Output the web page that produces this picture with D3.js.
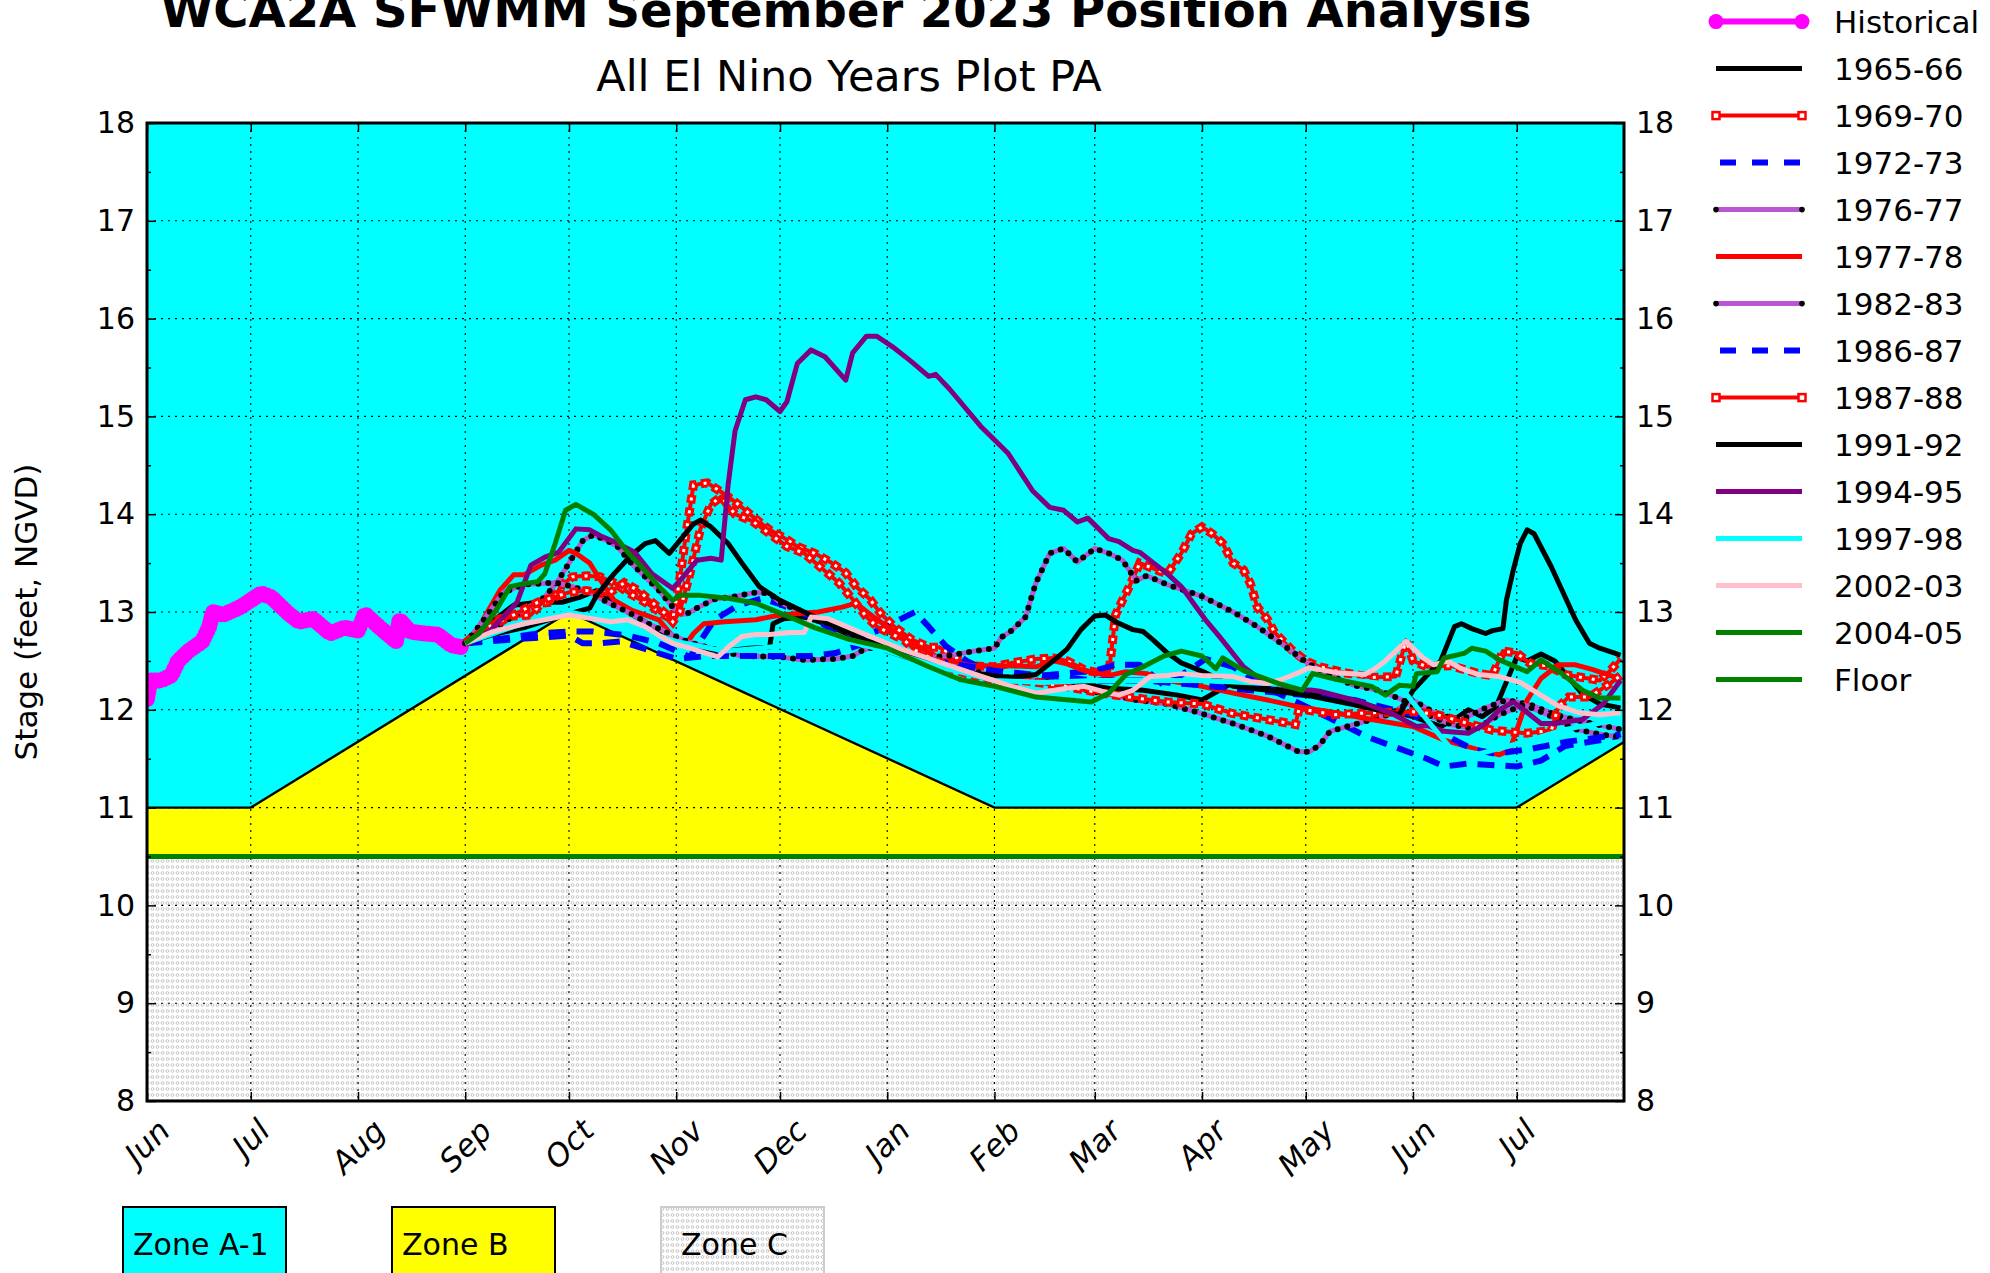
<!DOCTYPE html>
<html>
<head>
<meta charset="utf-8">
<script src="https://d3js.org/d3.v7.min.js"></script>
<style>
  body { margin: 0; background: #fff; }
  svg { display: block; }
  text { font-family: "DejaVu Sans", sans-serif; fill: #000; }
</style>
</head>
<body>
<svg id="chart" width="1990" height="1273"></svg>
<script>
// ---- data ----
const monthStart = "2023-06-01", monthEnd = "2024-08-01";
const yTicks = [8, 9, 10, 11, 12, 13, 14, 15, 16, 17, 18];
const floorLevel = 10.5;

const zoneB = [["2023-06-01",11],["2023-07-01",11],["2023-10-01",13],["2024-02-01",11],["2024-07-01",11],["2024-08-01",11.67]];

const historical = [["2023-06-01",12.11],["2023-06-02",12.3],["2023-06-05",12.3],["2023-06-08",12.35],["2023-06-10",12.5],["2023-06-13",12.6],["2023-06-17",12.7],["2023-06-19",12.85],["2023-06-20",13.0],["2023-06-23",12.97],["2023-06-28",13.05],["2023-07-01",13.12],["2023-07-04",13.19],["2023-07-07",13.15],["2023-07-12",12.98],["2023-07-15",12.9],["2023-07-19",12.93],["2023-07-24",12.78],["2023-07-28",12.84],["2023-08-01",12.81],["2023-08-03",12.98],["2023-08-07",12.85],["2023-08-12",12.7],["2023-08-13",12.92],["2023-08-16",12.8],["2023-08-20",12.78],["2023-08-24",12.77],["2023-08-28",12.66],["2023-08-31",12.64]];

const y1965_66 = [["2023-09-01",12.68],["2023-09-08",12.88],["2023-09-15",13.07],["2023-09-22",13.1],["2023-09-29",13.1],["2023-10-04",13.15],["2023-10-09",13.22],["2023-10-13",13.12],["2023-10-18",13.0],["2023-10-23",12.9],["2023-10-28",12.78],["2023-11-02",12.68],["2023-11-08",12.62],["2023-11-15",12.6],["2023-11-22",12.63],["2023-11-28",12.64],["2023-11-29",12.88],["2023-12-02",12.93],["2023-12-08",12.95],["2023-12-14",12.88],["2023-12-22",12.75],["2024-01-01",12.6],["2024-01-10",12.5],["2024-01-20",12.42],["2024-02-01",12.35],["2024-02-13",12.3],["2024-02-25",12.27],["2024-03-05",12.22],["2024-03-15",12.2],["2024-03-25",12.15],["2024-04-01",12.1],["2024-04-06",12.2],["2024-04-10",12.28],["2024-04-20",12.22],["2024-05-01",12.17],["2024-05-15",12.08],["2024-06-01",11.93],["2024-06-09",11.83],["2024-06-13",11.9],["2024-06-17",12.0],["2024-06-21",11.93],["2024-06-25",12.03],["2024-06-29",12.37],["2024-07-01",12.54],["2024-07-04",12.5],["2024-07-08",12.57],["2024-07-12",12.5],["2024-07-16",12.33],["2024-07-20",12.16],["2024-07-25",12.06],["2024-07-31",12.02]];

const y1969_70 = [["2023-09-01",12.68],["2023-09-05",12.8],["2023-09-10",12.92],["2023-09-15",12.96],["2023-09-20",12.97],["2023-09-23",13.09],["2023-09-26",13.1],["2023-09-29",13.28],["2023-10-02",13.36],["2023-10-06",13.37],["2023-10-10",13.36],["2023-10-14",13.3],["2023-10-18",13.2],["2023-10-23",13.1],["2023-10-28",12.98],["2023-10-31",12.92],["2023-11-02",13.33],["2023-11-04",13.84],["2023-11-06",14.3],["2023-11-10",14.32],["2023-11-13",14.25],["2023-11-16",14.18],["2023-11-20",14.07],["2023-11-24",13.95],["2023-11-28",13.84],["2023-12-03",13.74],["2023-12-06",13.67],["2023-12-11",13.6],["2023-12-16",13.5],["2023-12-20",13.4],["2023-12-23",13.26],["2023-12-27",13.13],["2023-12-30",12.99],["2024-01-03",12.85],["2024-01-08",12.72],["2024-01-13",12.64],["2024-01-16",12.64],["2024-01-20",12.56],["2024-01-24",12.45],["2024-02-01",12.44],["2024-02-06",12.48],["2024-02-13",12.52],["2024-02-18",12.53],["2024-02-22",12.5],["2024-02-27",12.41],["2024-03-03",12.37],["2024-03-05",12.35],["2024-03-07",12.97],["2024-03-09",13.12],["2024-03-11",13.26],["2024-03-14",13.5],["2024-03-19",13.43],["2024-03-22",13.39],["2024-03-26",13.6],["2024-03-29",13.8],["2024-04-01",13.87],["2024-04-04",13.8],["2024-04-07",13.7],["2024-04-10",13.5],["2024-04-13",13.43],["2024-04-15",13.29],["2024-04-17",13.05],["2024-04-20",12.92],["2024-04-22",12.79],["2024-04-27",12.61],["2024-05-01",12.5],["2024-05-05",12.44],["2024-05-12",12.38],["2024-05-20",12.33],["2024-05-27",12.34],["2024-05-30",12.71],["2024-06-01",12.5],["2024-06-05",12.44],["2024-06-12",12.45],["2024-06-20",12.37],["2024-06-24",12.35],["2024-06-27",12.6],["2024-07-01",12.58],["2024-07-05",12.47],["2024-07-10",12.45],["2024-07-15",12.36],["2024-07-20",12.33],["2024-07-25",12.3],["2024-07-28",12.4],["2024-07-31",12.52]];

const y1972_73 = [["2023-09-01",12.68],["2023-09-12",12.73],["2023-09-22",12.78],["2023-10-01",12.8],["2023-10-08",12.8],["2023-10-18",12.76],["2023-10-27",12.68],["2023-11-05",12.54],["2023-11-12",12.92],["2023-11-19",13.07],["2023-11-26",13.14],["2023-12-01",13.08],["2023-12-10",12.95],["2023-12-17",12.8],["2023-12-25",12.75],["2024-01-01",12.85],["2024-01-05",12.93],["2024-01-09",13.0],["2024-01-13",12.85],["2024-01-18",12.65],["2024-01-24",12.5],["2024-02-03",12.33],["2024-02-15",12.35],["2024-03-01",12.4],["2024-03-07",12.46],["2024-03-14",12.46],["2024-03-21",12.25],["2024-03-28",12.4],["2024-04-02",12.52],["2024-04-10",12.44],["2024-04-17",12.27],["2024-04-26",12.12],["2024-05-07",11.93],["2024-05-19",11.72],["2024-06-05",11.5],["2024-06-10",11.42],["2024-06-17",11.45],["2024-07-01",11.42],["2024-07-08",11.48],["2024-07-15",11.63],["2024-07-27",11.7],["2024-07-31",11.75]];

const y1976_77 = [["2023-09-01",12.68],["2023-09-08",12.8],["2023-09-15",12.96],["2023-09-24",13.15],["2023-09-28",13.33],["2023-10-01",13.5],["2023-10-05",13.73],["2023-10-08",13.79],["2023-10-12",13.73],["2023-10-15",13.67],["2023-10-19",13.5],["2023-10-23",13.36],["2023-10-27",13.22],["2023-10-31",13.05],["2023-11-02",12.98],["2023-11-04",12.98],["2023-11-08",13.06],["2023-11-12",13.13],["2023-11-18",13.16],["2023-11-24",13.2],["2023-11-28",13.19],["2023-12-01",13.1],["2023-12-04",13.05],["2023-12-08",13.0],["2023-12-15",12.88],["2023-12-25",12.72],["2024-01-05",12.6],["2024-01-15",12.5],["2024-01-25",12.4],["2024-02-05",12.33],["2024-02-13",12.3],["2024-02-22",12.24],["2024-03-03",12.17],["2024-03-13",12.1],["2024-03-22",12.06],["2024-04-01",11.96],["2024-04-10",11.86],["2024-04-20",11.73],["2024-04-29",11.57],["2024-05-02",11.57],["2024-05-05",11.64],["2024-05-08",11.78],["2024-05-15",11.85],["2024-05-25",11.95],["2024-06-01",12.1],["2024-06-08",11.95],["2024-06-15",11.9],["2024-06-22",12.02],["2024-06-28",12.1],["2024-07-05",12.05],["2024-07-12",11.95],["2024-07-20",11.88],["2024-07-31",11.8]];

const y1977_78 = [["2023-09-01",12.68],["2023-09-05",12.85],["2023-09-11",13.22],["2023-09-15",13.38],["2023-09-18",13.38],["2023-09-23",13.48],["2023-09-27",13.53],["2023-10-01",13.63],["2023-10-03",13.6],["2023-10-07",13.5],["2023-10-10",13.33],["2023-10-14",13.12],["2023-10-19",13.02],["2023-10-23",12.97],["2023-10-27",12.92],["2023-10-31",12.75],["2023-11-04",12.68],["2023-11-06",12.78],["2023-11-09",12.88],["2023-11-15",12.9],["2023-11-24",12.92],["2023-12-01",12.97],["2023-12-12",13.0],["2023-12-19",13.05],["2023-12-23",13.09],["2023-12-28",12.95],["2024-01-05",12.75],["2024-01-15",12.55],["2024-01-25",12.45],["2024-02-05",12.45],["2024-02-13",12.44],["2024-02-18",12.5],["2024-02-22",12.47],["2024-02-27",12.4],["2024-03-05",12.35],["2024-03-10",12.39],["2024-03-16",12.37],["2024-03-22",12.3],["2024-04-01",12.24],["2024-04-10",12.17],["2024-04-20",12.1],["2024-04-29",12.03],["2024-05-08",11.98],["2024-05-20",11.9],["2024-06-01",11.83],["2024-06-10",11.69],["2024-06-20",11.59],["2024-06-26",11.54],["2024-06-29",11.59],["2024-07-04",12.1],["2024-07-08",12.32],["2024-07-13",12.46],["2024-07-18",12.46],["2024-07-23",12.41],["2024-07-29",12.34],["2024-07-31",12.3]];

const y1982_83 = [["2023-09-01",12.68],["2023-09-06",12.9],["2023-09-12",13.2],["2023-09-18",13.28],["2023-09-27",13.3],["2023-10-02",13.26],["2023-10-07",13.2],["2023-10-12",13.1],["2023-10-18",13.0],["2023-10-24",12.88],["2023-10-30",12.78],["2023-11-04",12.7],["2023-11-12",12.62],["2023-11-20",12.55],["2023-12-01",12.54],["2023-12-08",12.51],["2023-12-17",12.52],["2023-12-22",12.55],["2023-12-25",12.61],["2023-12-29",12.65],["2024-01-01",12.61],["2024-01-08",12.57],["2024-01-15",12.54],["2024-01-20",12.56],["2024-01-26",12.6],["2024-02-01",12.63],["2024-02-03",12.74],["2024-02-06",12.81],["2024-02-10",12.95],["2024-02-13",13.3],["2024-02-17",13.6],["2024-02-21",13.65],["2024-02-25",13.51],["2024-03-01",13.65],["2024-03-05",13.6],["2024-03-09",13.53],["2024-03-13",13.32],["2024-03-16",13.37],["2024-03-22",13.28],["2024-04-01",13.16],["2024-04-10",13.0],["2024-04-17",12.85],["2024-04-25",12.65],["2024-05-01",12.49],["2024-05-08",12.35],["2024-05-15",12.25],["2024-05-22",12.2],["2024-05-29",12.1],["2024-06-05",11.95],["2024-06-12",11.85],["2024-06-19",11.8],["2024-06-26",11.95],["2024-07-03",12.05],["2024-07-10",11.95],["2024-07-18",11.8],["2024-07-25",11.75],["2024-07-31",11.72]];

const y1986_87 = [["2023-09-01",12.68],["2023-09-15",12.72],["2023-10-01",12.76],["2023-10-05",12.68],["2023-10-10",12.68],["2023-10-16",12.7],["2023-10-25",12.6],["2023-11-01",12.52],["2023-11-10",12.55],["2023-11-20",12.55],["2023-12-01",12.55],["2023-12-10",12.55],["2023-12-17",12.58],["2023-12-27",12.7],["2024-01-05",12.6],["2024-01-15",12.5],["2024-02-01",12.4],["2024-02-15",12.35],["2024-03-01",12.3],["2024-03-15",12.3],["2024-04-01",12.25],["2024-04-15",12.2],["2024-05-01",12.15],["2024-05-15",12.1],["2024-06-01",11.95],["2024-06-10",11.75],["2024-06-18",11.6],["2024-06-25",11.55],["2024-07-05",11.6],["2024-07-15",11.67],["2024-07-25",11.72],["2024-07-31",11.75]];

const y1987_88 = [["2023-09-01",12.68],["2023-09-08",12.85],["2023-09-15",12.97],["2023-09-22",13.1],["2023-10-01",13.2],["2023-10-06",13.22],["2023-10-12",13.18],["2023-10-17",13.3],["2023-10-21",13.22],["2023-10-25",13.1],["2023-10-29",12.98],["2023-10-31",12.9],["2023-11-02",13.0],["2023-11-05",13.4],["2023-11-08",13.85],["2023-11-11",14.1],["2023-11-14",14.18],["2023-11-18",14.0],["2023-11-23",13.93],["2023-11-28",13.8],["2023-12-03",13.67],["2023-12-08",13.6],["2023-12-13",13.45],["2023-12-18",13.3],["2023-12-22",13.13],["2023-12-26",12.95],["2023-12-29",12.85],["2024-01-02",12.78],["2024-01-06",12.71],["2024-01-09",12.61],["2024-01-13",12.54],["2024-01-17",12.47],["2024-01-21",12.4],["2024-01-24",12.37],["2024-01-28",12.33],["2024-02-02",12.28],["2024-02-09",12.3],["2024-02-20",12.25],["2024-03-03",12.17],["2024-03-13",12.12],["2024-03-22",12.08],["2024-04-01",12.06],["2024-04-10",11.96],["2024-04-20",11.9],["2024-04-28",11.85],["2024-04-29",12.0],["2024-05-01",12.0],["2024-05-09",11.95],["2024-05-20",11.97],["2024-06-01",11.98],["2024-06-07",11.96],["2024-06-14",11.89],["2024-06-24",11.79],["2024-07-04",11.76],["2024-07-11",11.79],["2024-07-13",12.03],["2024-07-16",12.13],["2024-07-22",12.13],["2024-07-28",12.27],["2024-07-31",12.35]];

const y1991_92 = [["2023-09-01",12.68],["2023-09-09",12.77],["2023-09-18",12.84],["2023-09-26",12.93],["2023-10-01",12.98],["2023-10-07",13.04],["2023-10-09",13.17],["2023-10-14",13.39],["2023-10-19",13.58],["2023-10-23",13.7],["2023-10-26",13.73],["2023-10-30",13.6],["2023-11-02",13.73],["2023-11-06",13.9],["2023-11-08",13.94],["2023-11-11",13.87],["2023-11-16",13.7],["2023-11-20",13.5],["2023-11-25",13.26],["2023-12-01",13.12],["2023-12-08",13.0],["2023-12-15",12.88],["2023-12-25",12.72],["2024-01-05",12.58],["2024-01-15",12.47],["2024-01-25",12.38],["2024-02-05",12.33],["2024-02-13",12.36],["2024-02-18",12.5],["2024-02-22",12.62],["2024-02-26",12.82],["2024-03-01",12.96],["2024-03-04",12.97],["2024-03-07",12.9],["2024-03-12",12.82],["2024-03-15",12.8],["2024-03-18",12.71],["2024-03-22",12.58],["2024-03-26",12.48],["2024-04-02",12.38],["2024-04-10",12.24],["2024-04-20",12.2],["2024-05-01",12.15],["2024-05-15",12.05],["2024-05-28",11.95],["2024-06-01",12.2],["2024-06-09",12.5],["2024-06-13",12.85],["2024-06-15",12.88],["2024-06-18",12.83],["2024-06-22",12.78],["2024-06-24",12.81],["2024-06-27",12.83],["2024-06-28",13.12],["2024-06-30",13.43],["2024-07-02",13.7],["2024-07-04",13.84],["2024-07-06",13.8],["2024-07-11",13.46],["2024-07-18",12.92],["2024-07-22",12.68],["2024-07-25",12.63],["2024-07-31",12.56]];

const y1994_95 = [["2023-09-01",12.68],["2023-09-08",12.8],["2023-09-16",13.1],["2023-09-20",13.48],["2023-09-24",13.56],["2023-09-28",13.61],["2023-10-03",13.85],["2023-10-07",13.84],["2023-10-10",13.78],["2023-10-14",13.72],["2023-10-20",13.61],["2023-10-25",13.39],["2023-10-31",13.24],["2023-11-03",13.36],["2023-11-07",13.53],["2023-11-11",13.55],["2023-11-14",13.53],["2023-11-16",14.3],["2023-11-18",14.85],["2023-11-21",15.17],["2023-11-24",15.2],["2023-11-27",15.17],["2023-12-01",15.05],["2023-12-03",15.15],["2023-12-06",15.54],["2023-12-10",15.68],["2023-12-14",15.61],["2023-12-20",15.37],["2023-12-22",15.65],["2023-12-26",15.82],["2023-12-29",15.82],["2024-01-03",15.7],["2024-01-08",15.56],["2024-01-13",15.41],["2024-01-15",15.43],["2024-01-19",15.28],["2024-01-28",14.9],["2024-02-05",14.62],["2024-02-12",14.24],["2024-02-17",14.07],["2024-02-21",14.04],["2024-02-25",13.92],["2024-02-28",13.96],["2024-03-05",13.75],["2024-03-08",13.72],["2024-03-12",13.63],["2024-03-14",13.61],["2024-03-22",13.39],["2024-03-26",13.26],["2024-04-02",12.92],["2024-04-06",12.75],["2024-04-13",12.44],["2024-04-18",12.31],["2024-04-25",12.24],["2024-05-05",12.19],["2024-05-17",12.08],["2024-05-26",11.96],["2024-06-02",11.83],["2024-06-05",11.84],["2024-06-10",11.78],["2024-06-17",11.76],["2024-06-22",11.86],["2024-06-26",12.0],["2024-06-30",12.08],["2024-07-03",12.0],["2024-07-08",11.86],["2024-07-12",11.86],["2024-07-20",11.9],["2024-07-26",12.06],["2024-07-31",12.3]];

const y1997_98 = [["2023-09-01",12.68],["2023-09-15",12.85],["2023-10-01",13.0],["2023-10-15",12.9],["2023-11-01",12.7],["2023-11-15",12.6],["2023-12-01",12.65],["2023-12-15",12.75],["2024-01-01",12.6],["2024-01-15",12.45],["2024-02-01",12.3],["2024-02-15",12.28],["2024-03-01",12.3],["2024-04-01",12.3],["2024-05-01",12.25],["2024-05-15",12.3],["2024-05-28",12.25],["2024-06-05",11.9],["2024-06-12",11.6],["2024-06-20",11.55],["2024-07-01",11.65],["2024-07-15",11.8],["2024-07-31",11.9]];

const y2002_03 = [["2023-09-01",12.68],["2023-09-09",12.8],["2023-09-18",12.88],["2023-10-01",12.97],["2023-10-08",12.93],["2023-10-13",12.9],["2023-10-18",12.92],["2023-10-23",12.85],["2023-10-27",12.76],["2023-10-31",12.68],["2023-11-05",12.63],["2023-11-13",12.54],["2023-11-16",12.64],["2023-11-20",12.75],["2023-11-24",12.77],["2023-11-28",12.77],["2023-12-04",12.79],["2023-12-08",12.79],["2023-12-10",12.95],["2023-12-15",12.93],["2023-12-25",12.78],["2024-01-05",12.62],["2024-01-15",12.5],["2024-01-25",12.38],["2024-02-05",12.25],["2024-02-13",12.17],["2024-02-22",12.22],["2024-02-27",12.24],["2024-03-03",12.19],["2024-03-08",12.15],["2024-03-12",12.2],["2024-03-17",12.34],["2024-03-22",12.35],["2024-03-26",12.37],["2024-04-01",12.35],["2024-04-10",12.34],["2024-04-15",12.29],["2024-04-20",12.27],["2024-04-24",12.31],["2024-04-29",12.38],["2024-05-02",12.43],["2024-05-10",12.38],["2024-05-18",12.36],["2024-05-21",12.42],["2024-05-24",12.5],["2024-05-27",12.6],["2024-05-30",12.7],["2024-06-01",12.63],["2024-06-04",12.53],["2024-06-07",12.46],["2024-06-11",12.5],["2024-06-15",12.42],["2024-06-20",12.36],["2024-06-26",12.34],["2024-07-02",12.28],["2024-07-07",12.17],["2024-07-13",12.04],["2024-07-19",11.97],["2024-07-25",11.95],["2024-07-31",11.97]];

const y2004_05 = [["2023-09-01",12.68],["2023-09-05",12.78],["2023-09-10",13.02],["2023-09-14",13.26],["2023-09-18",13.29],["2023-09-22",13.31],["2023-09-24",13.39],["2023-09-27",13.7],["2023-09-30",14.04],["2023-10-03",14.1],["2023-10-08",14.0],["2023-10-13",13.84],["2023-10-18",13.61],["2023-10-22",13.46],["2023-10-27",13.26],["2023-10-31",13.12],["2023-11-02",13.17],["2023-11-08",13.17],["2023-11-16",13.14],["2023-11-24",13.09],["2023-12-03",12.96],["2023-12-11",12.84],["2023-12-21",12.72],["2024-01-01",12.63],["2024-01-13",12.44],["2024-01-22",12.31],["2024-02-01",12.24],["2024-02-13",12.13],["2024-02-29",12.08],["2024-03-05",12.17],["2024-03-10",12.36],["2024-03-15",12.44],["2024-03-21",12.55],["2024-03-26",12.6],["2024-04-01",12.55],["2024-04-05",12.42],["2024-04-07",12.53],["2024-04-13",12.4],["2024-04-23",12.27],["2024-04-30",12.2],["2024-05-03",12.37],["2024-05-10",12.31],["2024-05-20",12.24],["2024-05-24",12.15],["2024-05-28",12.25],["2024-06-01",12.24],["2024-06-02",12.37],["2024-06-08",12.39],["2024-06-10",12.53],["2024-06-16",12.58],["2024-06-18",12.63],["2024-06-22",12.6],["2024-06-26",12.51],["2024-07-04",12.39],["2024-07-08",12.51],["2024-07-14",12.37],["2024-07-20",12.2],["2024-07-25",12.12],["2024-07-31",12.12]];

// ---- styles ----
const series = [
  { name: "Historical", data: historical, color: "#ff00ff", width: 8, kind: "circle" },
  { name: "1965-66", data: y1965_66, color: "#000000", width: 5 },
  { name: "1969-70", data: y1969_70, color: "#ff0000", width: 4, kind: "square" },
  { name: "1972-73", data: y1972_73, color: "#0000ff", width: 6, dash: "17 11" },
  { name: "1976-77", data: y1976_77, color: "#ba55d3", width: 5, kind: "dot" },
  { name: "1977-78", data: y1977_78, color: "#ff0000", width: 5 },
  { name: "1982-83", data: y1982_83, color: "#ba55d3", width: 5, kind: "dot" },
  { name: "1986-87", data: y1986_87, color: "#0000ff", width: 6, dash: "17 11" },
  { name: "1987-88", data: y1987_88, color: "#ff0000", width: 4, kind: "square" },
  { name: "1991-92", data: y1991_92, color: "#000000", width: 5 },
  { name: "1994-95", data: y1994_95, color: "#800080", width: 5 },
  { name: "1997-98", data: y1997_98, color: "#00ffff", width: 5 },
  { name: "2002-03", data: y2002_03, color: "#ffc0cb", width: 5 },
  { name: "2004-05", data: y2004_05, color: "#008000", width: 5 }
];

const parse = d3.timeParse("%Y-%m-%d");
const plot = { left: 147, right: 1624, top: 123, bottom: 1101 };

const svg = d3.select("#chart");
const x = d3.scaleTime().domain([parse(monthStart), parse(monthEnd)]).range([plot.left, plot.right]);
const y = d3.scaleLinear().domain([8, 18]).range([plot.bottom, plot.top]);

const defs = svg.append("defs");
defs.append("clipPath").attr("id", "clip")
  .append("rect").attr("x", plot.left).attr("y", plot.top)
  .attr("width", plot.right - plot.left).attr("height", plot.bottom - plot.top);

// zone C hatch (small grey rings)
const pat = defs.append("pattern").attr("id", "rings")
  .attr("patternUnits", "userSpaceOnUse").attr("width", 5).attr("height", 6);
pat.append("rect").attr("width", 5).attr("height", 6).attr("fill", "#fff");
pat.append("circle").attr("cx", 2.5).attr("cy", 3).attr("r", 1.4)
  .attr("fill", "none").attr("stroke", "#bdbdbd").attr("stroke-width", 0.9);

const line = d3.line().x(d => x(parse(d[0]))).y(d => y(d[1]));

// ---- zones ----
svg.append("rect").attr("x", plot.left).attr("y", plot.top)
  .attr("width", plot.right - plot.left).attr("height", y(floorLevel) - plot.top)
  .attr("fill", "#00ffff");
svg.append("rect").attr("x", plot.left).attr("y", y(floorLevel))
  .attr("width", plot.right - plot.left).attr("height", plot.bottom - y(floorLevel))
  .attr("fill", "url(#rings)");
svg.append("path").datum(zoneB)
  .attr("d", d3.area().x(d => x(parse(d[0]))).y0(y(floorLevel)).y1(d => y(d[1])))
  .attr("fill", "#ffff00");
svg.append("path").datum(zoneB).attr("d", line)
  .attr("fill", "none").attr("stroke", "#000").attr("stroke-width", 2.4);

// ---- grid ----
const months = d3.timeMonth.range(parse(monthStart), parse(monthEnd));
const grid = svg.append("g").attr("stroke", "#000").attr("stroke-width", 1.1)
  .attr("stroke-dasharray", "2 5");
grid.selectAll(".gx").data(months.slice(1)).enter().append("line")
  .attr("x1", d => x(d)).attr("x2", d => x(d))
  .attr("y1", plot.top).attr("y2", plot.bottom);
grid.selectAll(".gy").data(yTicks.slice(1, -1)).enter().append("line")
  .attr("y1", d => y(d)).attr("y2", d => y(d))
  .attr("x1", plot.left).attr("x2", plot.right);

// ---- series ----
const lines = svg.append("g").attr("clip-path", "url(#clip)");

function drawStyled(g, d, path) {
  const base = g.append("path").attr("d", path).attr("fill", "none")
    .attr("stroke", d.color).attr("stroke-width", d.width)
    .attr("stroke-linejoin", "round");
  if (d.dash) base.attr("stroke-dasharray", d.dash);
  if (d.kind === "circle") {
    g.append("path").attr("d", path).attr("fill", "none").attr("stroke", d.color)
      .attr("stroke-width", 16).attr("stroke-linecap", "round").attr("stroke-dasharray", "0 4");
  } else if (d.kind === "dot") {
    g.append("path").attr("d", path).attr("fill", "none").attr("stroke", "#000")
      .attr("stroke-width", 6).attr("stroke-linecap", "round").attr("stroke-dasharray", "0 10");
  } else if (d.kind === "square") {
    g.append("path").attr("d", path).attr("fill", "none").attr("stroke", d.color)
      .attr("stroke-width", 9).attr("stroke-dasharray", "8.5 4.5");
    g.append("path").attr("d", path).attr("fill", "none").attr("stroke", "#fff")
      .attr("stroke-width", 3).attr("stroke-dasharray", "3 10").attr("stroke-dashoffset", -2.75);
  }
}

series.forEach(d => drawStyled(lines.append("g"), d, line(d.data)));

// floor
svg.append("line").attr("x1", plot.left).attr("x2", plot.right)
  .attr("y1", y(floorLevel)).attr("y2", y(floorLevel))
  .attr("stroke", "#008000").attr("stroke-width", 5);

// ---- axes ----
const minor = d3.range(8.5, 18, 1);
const axL = svg.append("g").attr("transform", `translate(${plot.left},0)`)
  .call(d3.axisLeft(y).tickValues(yTicks).tickSize(-9).tickPadding(12));
const axR = svg.append("g").attr("transform", `translate(${plot.right},0)`)
  .call(d3.axisRight(y).tickValues(yTicks).tickSize(-9).tickPadding(12));
svg.append("g").attr("transform", `translate(${plot.left},0)`)
  .call(d3.axisLeft(y).tickValues(minor).tickSize(-4).tickFormat(""));
svg.append("g").attr("transform", `translate(${plot.right},0)`)
  .call(d3.axisRight(y).tickValues(minor).tickSize(-4).tickFormat(""));
svg.append("g").attr("transform", `translate(0,${plot.bottom})`)
  .call(d3.axisBottom(x).tickValues(months).tickSize(-9).tickFormat(""));
svg.append("g").attr("transform", `translate(0,${plot.top})`)
  .call(d3.axisTop(x).tickValues(months).tickSize(-9).tickFormat(""));
svg.selectAll(".domain").remove();
svg.selectAll(".tick line").attr("stroke", "#000").attr("stroke-width", 1.5);
[axL, axR].forEach(a => a.selectAll("text")
  .attr("font-family", "DejaVu Sans").attr("font-size", 30).attr("fill", "#000"));

// x labels rotated 45 degrees, centred on the tick
const fmt = d3.timeFormat("%b");
const xFont = 31, labelTop = 1114;
svg.append("g").selectAll("text").data(months).enter().append("text")
  .attr("font-size", xFont).attr("font-style", "italic")
  .attr("text-anchor", "middle").attr("dominant-baseline", "central")
  .text(d => fmt(d))
  .each(function (d) {
    const len = this.getComputedTextLength();
    const half = (len + xFont) * Math.SQRT1_2 / 2;
    d3.select(this).attr("transform", `translate(${x(d)},${labelTop + half}) rotate(-45)`);
  });

// frame
svg.append("rect").attr("x", plot.left).attr("y", plot.top)
  .attr("width", plot.right - plot.left).attr("height", plot.bottom - plot.top)
  .attr("fill", "none").attr("stroke", "#000").attr("stroke-width", 3);

// ---- titles ----
svg.append("text").attr("x", 846).attr("y", 27).attr("text-anchor", "middle")
  .attr("font-size", 48).attr("font-weight", "bold")
  .text("WCA2A SFWMM September 2023 Position Analysis");
svg.append("text").attr("x", 849).attr("y", 91).attr("text-anchor", "middle")
  .attr("font-size", 43).text("All El Nino Years Plot PA");
svg.append("text").attr("transform", `translate(37,${(plot.top + plot.bottom) / 2}) rotate(-90)`)
  .attr("text-anchor", "middle").attr("font-size", 31).text("Stage (feet, NGVD)");

// ---- legend ----
const leg = svg.append("g");
const legItems = series.concat([{ name: "Floor", color: "#008000", width: 5 }]);
const lx0 = 1716, lx1 = 1802;
legItems.forEach((d, i) => {
  const cy = 21.6 + i * 47;
  const g = leg.append("g");
  const ln = g.append("line").attr("x1", lx0).attr("x2", lx1).attr("y1", cy).attr("y2", cy)
    .attr("stroke", d.color).attr("stroke-width", d.kind === "circle" ? 6 : d.width);
  if (d.dash) ln.attr("stroke-dasharray", "16 16").attr("stroke-dashoffset", -4);
  [lx0, lx1].forEach(px => {
    if (d.kind === "circle") {
      g.append("circle").attr("cx", px).attr("cy", cy).attr("r", 7.5).attr("fill", d.color);
    } else if (d.kind === "dot") {
      g.append("circle").attr("cx", px).attr("cy", cy).attr("r", 2.8).attr("fill", "#000");
    } else if (d.kind === "square") {
      g.append("rect").attr("x", px - 3.5).attr("y", cy - 3.5).attr("width", 7).attr("height", 7)
        .attr("fill", "#fff").attr("stroke", d.color).attr("stroke-width", 2.5);
    }
  });
  g.append("text").attr("x", 1834).attr("y", cy).attr("dominant-baseline", "central")
    .attr("font-size", 31).text(d.name);
});

// ---- zone boxes ----
const zones = [
  { label: "Zone A-1", fill: "#00ffff", stroke: "#000", x: 123, tx: 133 },
  { label: "Zone B", fill: "#ffff00", stroke: "#000", x: 392, tx: 402 },
  { label: "Zone C", fill: "url(#rings)", stroke: "#cccccc", x: 661, tx: 681 }
];
zones.forEach(z => {
  svg.append("rect").attr("x", z.x).attr("y", 1207).attr("width", 163).attr("height", 90)
    .attr("fill", z.fill).attr("stroke", z.stroke).attr("stroke-width", 2);
  svg.append("text").attr("x", z.tx).attr("y", 1255).attr("font-size", 30).text(z.label);
});
</script>
</body>
</html>
